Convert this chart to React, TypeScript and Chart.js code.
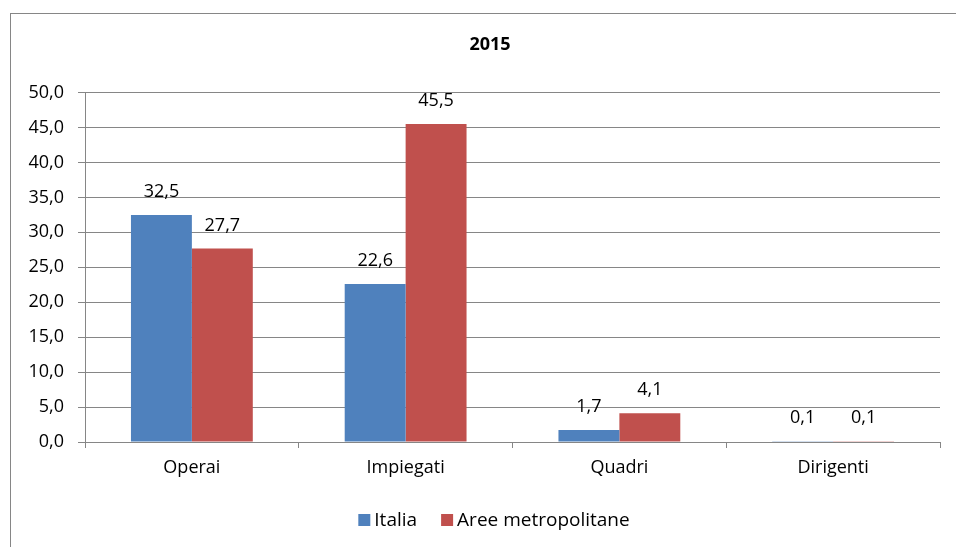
import React, { useEffect, useRef } from "react";
import { Chart, registerables } from "chart.js";

Chart.register(...registerables);

const TITLE = "2015";
const categories = ["Operai", "Impiegati", "Quadri", "Dirigenti"];
const seriesNames = ["Italia", "Aree metropolitane"];
const italia = [32.5, 22.6, 1.7, 0.1];
const aree = [27.7, 45.5, 4.1, 0.1];
const seriesColors = ["#4F81BD", "#C0504D"];
const yMin = 0;
const yMax = 50;
const yStep = 5;

const FONT = "'Open Sans', 'Noto Sans', sans-serif";
const GRID = "#868686";
const CANVAS_W = 980;
const CANVAS_H = 547;

const fmt = (v: number) => v.toFixed(1).replace(".", ",");

const frame = {
  id: "frame",
  beforeDraw(chart: any) {
    const ctx = chart.ctx;
    ctx.save();
    ctx.fillStyle = "#ffffff";
    ctx.fillRect(0, 0, chart.width, chart.height);
    ctx.strokeStyle = GRID;
    ctx.lineWidth = 1;
    ctx.strokeRect(10.5, 13.5, 1000, 700);
    ctx.restore();
  },
};

const valueLabels = {
  id: "valueLabels",
  afterDatasetsDraw(chart: any) {
    const ctx = chart.ctx;
    ctx.save();
    ctx.font = `18px ${FONT}`;
    ctx.fillStyle = "#000";
    ctx.textAlign = "center";
    ctx.textBaseline = "middle";
    chart.data.datasets.forEach((ds: any, i: number) => {
      const meta = chart.getDatasetMeta(i);
      meta.data.forEach((el: any, j: number) => {
        ctx.fillText(fmt(ds.data[j]), el.x, el.y - 23);
      });
    });
    ctx.restore();
  },
};

const bottomLegend = {
  id: "bottomLegend",
  afterDraw(chart: any) {
    const ctx = chart.ctx;
    ctx.save();
    ctx.font = `19px ${FONT}`;
    ctx.textBaseline = "middle";
    ctx.textAlign = "left";
    const box = 12;
    const gap = 4;
    const itemGap = 24;
    const items = chart.data.datasets.map((ds: any) => ({
      label: ds.label,
      color: ds.backgroundColor,
      w: box + gap + ctx.measureText(ds.label).width,
    }));
    const total = items.reduce((a: number, it: any) => a + it.w, 0) + itemGap * (items.length - 1);
    let x = 494 - total / 2;
    const cy = 520;
    items.forEach((it: any) => {
      ctx.fillStyle = it.color;
      ctx.fillRect(x, cy - box / 2, box, box);
      ctx.fillStyle = "#000";
      ctx.fillText(it.label, x + box + gap, cy + 1);
      x += it.w + itemGap;
    });
    ctx.restore();
  },
};

export default function App() {
  const ref = useRef<HTMLCanvasElement | null>(null);
  useEffect(() => {
    document.body.style.margin = "0";
    document.body.style.overflow = "hidden";
    const chart = new Chart(ref.current!, {
      type: "bar",
      data: {
        labels: categories,
        datasets: [
          { label: seriesNames[0], data: italia, backgroundColor: seriesColors[0], borderWidth: 0 },
          { label: seriesNames[1], data: aree, backgroundColor: seriesColors[1], borderWidth: 0 },
        ],
      },
      options: {
        animation: false,
        responsive: false,
        layout: { padding: { left: 0, right: 0, top: 0, bottom: 45 } },
        datasets: { bar: { categoryPercentage: 0.57, barPercentage: 1 } },
        plugins: {
          title: {
            display: true,
            text: TITLE,
            color: "#000",
            font: { family: FONT, size: 18, weight: "bold" },
            padding: { top: 34, bottom: 37 },
          },
          legend: { display: false },
          tooltip: { enabled: false },
        },
        scales: {
          x: {
            grid: { display: true, drawOnChartArea: false, offset: true, color: GRID, tickLength: 6 },
            border: { color: GRID },
            ticks: { color: "#000", font: { family: FONT, size: 18 }, padding: 9 },
            afterFit: (s: any) => { s.height = 60; },
          },
          y: {
            min: yMin,
            max: yMax,
            ticks: {
              stepSize: yStep,
              color: "#000",
              font: { family: FONT, size: 18 },
              padding: 14,
              callback: (v: any) => fmt(Number(v)),
            },
            grid: { color: GRID, tickLength: 7 },
            border: { color: GRID },
            afterFit: (s: any) => { s.width = 85; },
          },
          yPad: {
            position: "right",
            display: true,
            grid: { display: false },
            border: { display: false },
            ticks: { display: false },
            afterFit: (s: any) => { s.width = CANVAS_W - 940; },
          },
        },
      },
      plugins: [frame, valueLabels, bottomLegend],
    });
    return () => chart.destroy();
  }, []);
  return (
    <div style={{ position: "absolute", left: 0, top: 0, width: 956, height: 547, overflow: "hidden" }}>
      <canvas ref={ref} width={CANVAS_W} height={CANVAS_H} />
    </div>
  );
}
